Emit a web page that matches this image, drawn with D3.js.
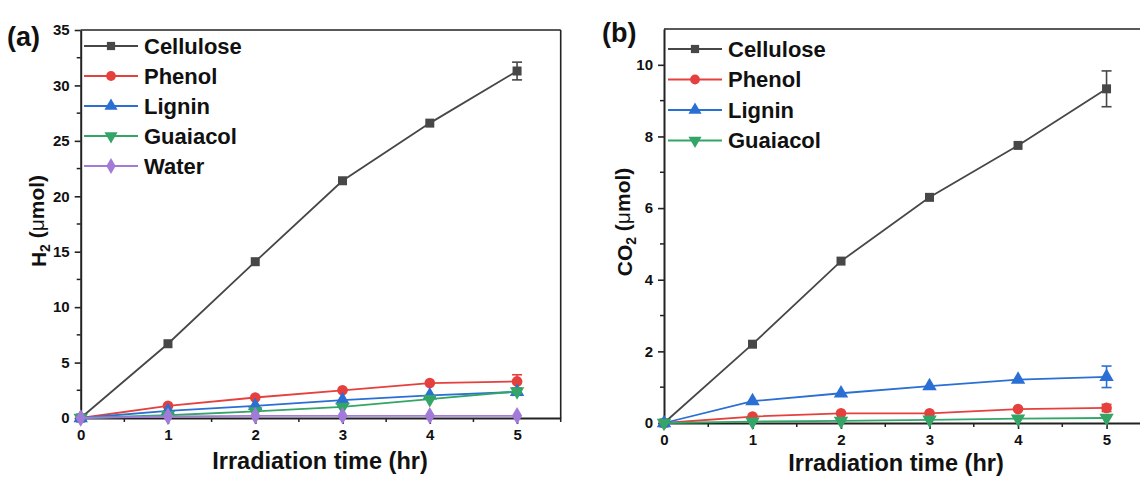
<!DOCTYPE html>
<html>
<head>
<meta charset="utf-8">
<script src="https://cdn.jsdelivr.net/npm/d3@7"></script>
<style>
body { margin: 0; background: #fff; }
svg { display: block; }
text { font-family: Arial, "Liberation Sans", sans-serif; font-weight: bold; fill: #111; }
</style>
</head>
<body>
<div id="chart"></div>
<script>
// irradiation time, hr
var times = [0, 1, 2, 3, 4, 5];

// (a) H2, umol
var h2Cellulose = [0, 6.7, 14.1, 21.4, 26.6, 31.3];
var h2Phenol    = [0, 1.1, 1.85, 2.5, 3.15, 3.3];
var h2Lignin    = [0, 0.65, 1.1, 1.62, 2.04, 2.35];
var h2Guaiacol  = [0, 0.25, 0.6, 1.0, 1.7, 2.4];
var h2Water     = [0, 0.15, 0.2, 0.2, 0.2, 0.2];
var h2CelluloseErr = [0, 0, 0, 0, 0, 0.8];
var h2PhenolErr    = [0, 0, 0, 0, 0, 0.6];
var h2LigninErr    = [0, 0, 0, 0, 0, 0.3];
var h2GuaiacolErr  = [0, 0, 0, 0, 0, 0.2];

// (b) CO2, umol
var co2Cellulose = [0, 2.2, 4.52, 6.3, 7.75, 9.33];
var co2Phenol    = [0, 0.18, 0.27, 0.27, 0.39, 0.42];
var co2Lignin    = [0, 0.61, 0.83, 1.03, 1.21, 1.29];
var co2Guaiacol  = [0, 0.04, 0.06, 0.09, 0.12, 0.14];
var co2CelluloseErr = [0, 0, 0, 0, 0, 0.5];
var co2PhenolErr    = [0, 0, 0, 0, 0, 0.1];
var co2LigninErr    = [0, 0, 0, 0, 0, 0.3];

var xTicks = [0, 1, 2, 3, 4, 5];
var h2Ticks = [0, 5, 10, 15, 20, 25, 30, 35];
var co2Ticks = [0, 2, 4, 6, 8, 10];

var colors = {
	Cellulose: "#474747",
	Phenol: "#e5403d",
	Lignin: "#2a6fd3",
	Guaiacol: "#33a567",
	Water: "#a27bd9"
};
var symbols = {
	Cellulose: d3.symbolSquare,
	Phenol: d3.symbolCircle,
	Lignin: d3.symbolTriangle,
	Guaiacol: "down",
	Water: d3.symbolDiamond
};

var width = 1140, height = 477;
var svg = d3.select("#chart").append("svg")
	.attr("width", width)
	.attr("height", height);

function marker(g, name, x, y, s) {
	var c = colors[name];
	if (symbols[name] == "down") {
		g.append("path")
			.attr("d", d3.symbol().type(d3.symbolTriangle).size(s)())
			.attr("transform", "translate(" + x + "," + y + ") rotate(180)")
			.style("fill", c);
	} else {
		g.append("path")
			.attr("d", d3.symbol().type(symbols[name]).size(name == "Cellulose" ? s * 0.9 : s)())
			.attr("transform", "translate(" + x + "," + y + ")")
			.style("fill", c);
	}
}

/****************************** one panel ******************************/
function panel(p) {
	var g = svg.append("g");
	var x = d3.scaleLinear().domain([0, 5.5]).range(p.xr);
	var y = d3.scaleLinear().domain(p.yd).range(p.yr);

	// frame top / right
	g.append("line").attr("x1", p.xr[0]).attr("x2", p.xr[1]).attr("y1", p.yr[1]).attr("y2", p.yr[1])
		.style("stroke", "#222").style("stroke-width", 1.6);
	g.append("line").attr("x1", p.xr[1]).attr("x2", p.xr[1]).attr("y1", p.yr[0]).attr("y2", p.yr[1])
		.style("stroke", "#222").style("stroke-width", 1.6);

	// minor ticks
	var xMinor = d3.range(0.5, 5.6, 1);
	g.selectAll(".xminor").data(xMinor).enter().append("line")
		.attr("x1", function(d){ return x(d); }).attr("x2", function(d){ return x(d); })
		.attr("y1", p.yr[0]).attr("y2", p.yr[0] + 4)
		.style("stroke", "#222").style("stroke-width", 1.5);
	g.selectAll(".yminor").data(p.yMinor).enter().append("line")
		.attr("y1", function(d){ return y(d); }).attr("y2", function(d){ return y(d); })
		.attr("x1", p.xr[0]).attr("x2", p.xr[0] - 4)
		.style("stroke", "#222").style("stroke-width", 1.5);

	var xAxis = g.append("g").attr("transform", "translate(0," + p.yr[0] + ")")
		.call(d3.axisBottom(x).tickValues(xTicks).tickFormat(d3.format("d"))
			.tickSize(6).tickSizeOuter(0).tickPadding(5));
	var yAxis = g.append("g").attr("transform", "translate(" + p.xr[0] + ",0)")
		.call(d3.axisLeft(y).tickValues(p.yTicks).tickFormat(d3.format("d"))
			.tickSize(6).tickSizeOuter(0).tickPadding(5));
	[xAxis, yAxis].forEach(function(a){
		a.select(".domain").style("stroke", "#222").style("stroke-width", 2);
		a.selectAll(".tick line").style("stroke", "#222").style("stroke-width", 1.6);
		a.selectAll(".tick text").style("font-size", "15px").style("font-weight", "bold")
			.style("font-family", "Arial, 'Liberation Sans', sans-serif").style("fill", "#111");
	});

	// series
	var line = d3.line()
		.x(function(d){ return x(d[0]); })
		.y(function(d){ return y(d[1]); });
	p.series.forEach(function(s){
		var pts = times.map(function(t, i){ return [t, s.values[i]]; });
		var c = colors[s.name];
		g.append("path").datum(pts).attr("d", line)
			.style("fill", "none").style("stroke", c).style("stroke-width", 1.8);
		if (s.err) {
			s.err.forEach(function(e, i){
				if (!e) return;
				var cx = x(times[i]), y0 = y(s.values[i] - e), y1 = y(s.values[i] + e);
				g.append("line").attr("x1", cx).attr("x2", cx).attr("y1", y0).attr("y2", y1)
					.style("stroke", c).style("stroke-width", 1.6);
				[y0, y1].forEach(function(yy){
					g.append("line").attr("x1", cx - 5).attr("x2", cx + 5).attr("y1", yy).attr("y2", yy)
						.style("stroke", c).style("stroke-width", 1.6);
				});
			});
		}
		pts.forEach(function(d){ marker(g, s.name, x(d[0]), y(d[1]), 90); });
	});

	// legend
	p.series.forEach(function(s, i){
		var ly = p.legY + i * p.legStep;
		var c = colors[s.name];
		g.append("line").attr("x1", p.legX).attr("x2", p.legX + 54).attr("y1", ly).attr("y2", ly)
			.style("stroke", c).style("stroke-width", 2);
		marker(g, s.name, p.legX + 27, ly, 75);
		g.append("text").attr("x", p.legX + 60).attr("y", ly).attr("dy", "0.36em")
			.style("font-size", "22px").text(s.name);
	});

	// axis titles
	g.append("text").attr("x", p.xTitleX).attr("y", p.xTitleY)
		.attr("text-anchor", "middle").style("font-size", "23.5px").text("Irradiation time (hr)");

	var yt = g.append("text")
		.attr("transform", "translate(" + p.yTitleX + "," + p.yTitleY + ") rotate(-90)")
		.attr("text-anchor", "middle").style("font-size", "21px");
	yt.append("tspan").text(p.gas);
	yt.append("tspan").attr("dy", "0.3em").style("font-size", "14px").text("2");
	yt.append("tspan").attr("dy", "-0.3em").text(" (");
	yt.append("tspan").style("font-weight", "normal").text("\u03bc");
	yt.append("tspan").text("mol)");

	g.append("text").attr("x", p.labX).attr("y", p.labY)
		.style("font-size", "27px").text(p.label);
}

panel({
	xr: [80.7, 560.7], yr: [418, 30], yd: [0, 35],
	yTicks: h2Ticks, yMinor: d3.range(2.5, 35, 5),
	series: [
		{ name: "Cellulose", values: h2Cellulose, err: h2CelluloseErr },
		{ name: "Phenol", values: h2Phenol, err: h2PhenolErr },
		{ name: "Lignin", values: h2Lignin, err: h2LigninErr },
		{ name: "Guaiacol", values: h2Guaiacol, err: h2GuaiacolErr },
		{ name: "Water", values: h2Water }
	],
	legX: 84, legY: 46, legStep: 30,
	xTitleX: 320, xTitleY: 469, yTitleX: 46, yTitleY: 221,
	gas: "H", label: "(a)", labX: 7, labY: 46
});

panel({
	xr: [664, 1150.8], yr: [423, 29], yd: [0, 11],
	yTicks: co2Ticks, yMinor: d3.range(1, 11, 2),
	series: [
		{ name: "Cellulose", values: co2Cellulose, err: co2CelluloseErr },
		{ name: "Phenol", values: co2Phenol, err: co2PhenolErr },
		{ name: "Lignin", values: co2Lignin, err: co2LigninErr },
		{ name: "Guaiacol", values: co2Guaiacol }
	],
	legX: 668, legY: 49, legStep: 30.5,
	xTitleX: 896, xTitleY: 471, yTitleX: 632, yTitleY: 222,
	gas: "CO", label: "(b)", labX: 602, labY: 42
});
</script>
</body>
</html>
